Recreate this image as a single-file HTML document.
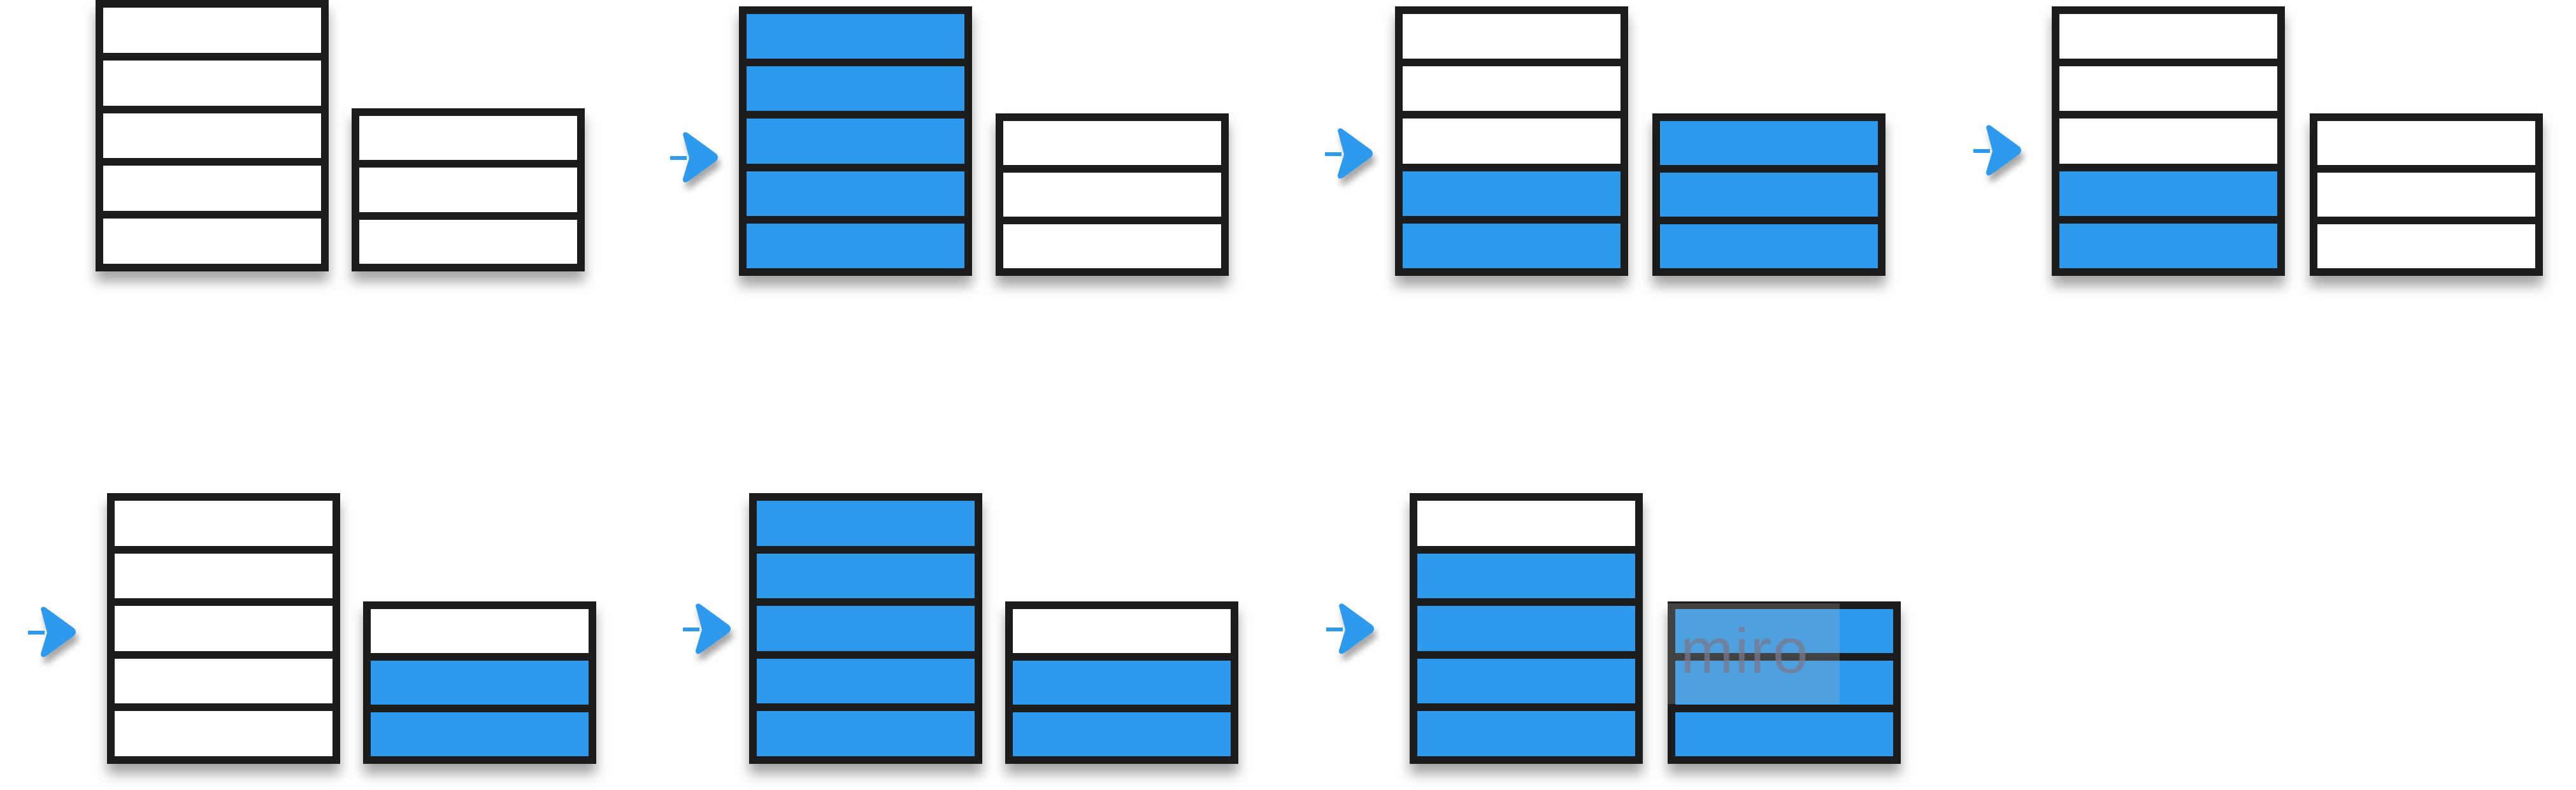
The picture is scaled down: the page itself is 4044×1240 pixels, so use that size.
<!DOCTYPE html>
<html><head><meta charset="utf-8"><style>
body{margin:0;width:4044px;height:1240px;background:#fff;position:relative;overflow:hidden;font-family:"Liberation Sans",sans-serif}
.stack{position:absolute;box-sizing:border-box;background:#1c1c1c;box-shadow:0 16px 18px rgba(0,0,0,0.35)}
.cell{position:absolute;left:12px;right:12px}
.arrow{position:absolute;overflow:visible}
</style></head><body>
<div id="root"></div>
<script>
// states: number of filled (blue) cells from bottom per stack
const tallFilled = [0, 5, 2, 2, 0, 5, 4];
const shortFilled = [0, 0, 3, 0, 2, 2, 3];
const tallRows = 5;
const shortRows = 3;
const root = document.getElementById('root');
const groups = [
 {tx:150,ty:0,tb:426,sx:552,sy:170,ax:null,ay:null},
 {tx:1160,ty:10,tb:433,sx:1563,sy:178,ax:1052,ay:248},
 {tx:2190,ty:10,tb:433,sx:2594,sy:178,ax:2080,ay:242},
 {tx:3221,ty:10,tb:433,sx:3626,sy:178,ax:3098,ay:237},
 {tx:168,ty:774,tb:1199,sx:570,sy:944,ax:44,ay:993},
 {tx:1176,ty:774,tb:1199,sx:1578,sy:944,ax:1072,ay:988},
 {tx:2213,ty:774,tb:1199,sx:2618,sy:944,ax:2082,ay:988}
];
function stack(x,y,bottom,rows,filled,name){
  const d=document.createElement('div');
  d.className='stack';
  
  
  const h=bottom-y, w=366;
  d.style.left=x+'px';d.style.top=y+'px';d.style.width=w+'px';d.style.height=h+'px';
  const b=12, ch=(h-b*(rows+1))/rows;
  for(let i=0;i<rows;i++){
    const c=document.createElement('div');
    c.className='cell';
    
    
    c.style.top=(b+i*(ch+b))+'px';c.style.height=ch+'px';
    c.style.background=(rows-i<=filled)?'#2e9aee':'#fff';
    d.appendChild(c);
  }
  root.appendChild(d);
}
function arrow(x,y){
  const s=document.createElementNS('http://www.w3.org/2000/svg','svg');
  s.setAttribute('class','arrow');
  
  
  s.setAttribute('width','80');s.setAttribute('height','90');
  s.style.left=x+'px';s.style.top=(y-45)+'px';
  s.innerHTML='<defs><filter id="f'+x+y+'" x="-50%" y="-50%" width="200%" height="200%"><feDropShadow dx="4" dy="10" stdDeviation="5" flood-opacity="0.35"/></filter></defs>'+
   '<path d="M20 8 Q22 2 28 6 L72 38 Q78 44 72 50 L28 82 Q20 86 20 78 L30 45 Z" fill="#2e9aee" filter="url(#f'+x+y+')"/>'+
   '<rect x="0" y="42" width="26" height="6" fill="#2e9aee"/>';
  root.appendChild(s);
}
groups.forEach((g,i)=>{
  stack(g.tx,g.ty,g.tb,tallRows,tallFilled[i],'tall-stack-'+(i+1));
  stack(g.sx,g.sy,g.tb,shortRows,shortFilled[i],'short-stack-'+(i+1));
  if(g.ax!==null) arrow(g.ax,g.ay);
});
const w=document.createElement('div');


w.style.cssText='position:absolute;left:2618px;top:947px;width:270px;height:158px;background:rgba(180,180,180,0.25);color:rgba(120,120,140,0.75);font-size:100px;line-height:150px;padding-left:20px;box-sizing:border-box;letter-spacing:2px';
w.textContent='miro';
root.appendChild(w);
</script>
</body></html>
